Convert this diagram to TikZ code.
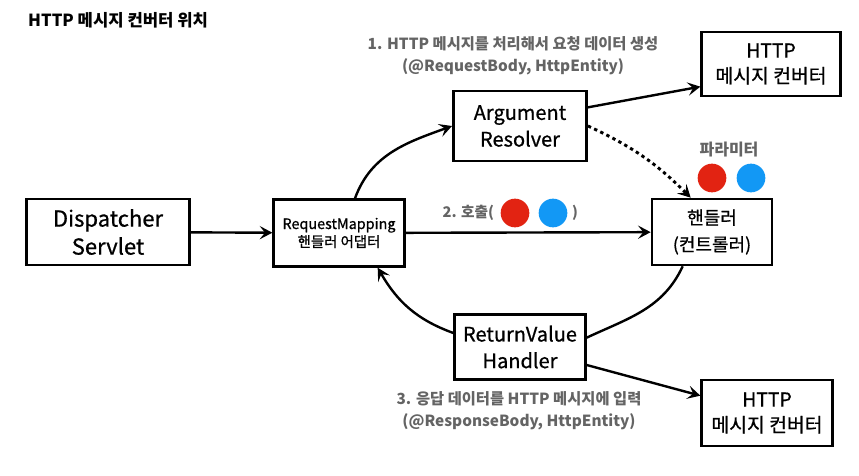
\documentclass[tikz,border=0pt]{standalone}
\usepackage{fontspec}
\setmainfont{Noto Sans CJK KR}
\newfontfamily\boxfont{Noto Sans CJK KR}[FakeBold=0.8]
\usetikzlibrary{arrows.meta}
\definecolor{lblgray}{RGB}{100,100,100}
\definecolor{pred}{RGB}{226,35,18}
\definecolor{pblue}{RGB}{18,152,245}

\begin{document}
\begin{tikzpicture}[x=0.75pt, y=0.75pt, line width=1.8pt,
    box/.style = {draw, line width=2pt, align=center, inner sep=0pt, font=\boxfont\fontsize{15}{20}\selectfont},
    lbl/.style = {text=lblgray, font=\bfseries\fontsize{11.5}{16.5}\selectfont, align=center},
    arr/.style = {-{Stealth[length=9.5pt,width=10pt,inset=4pt]}},
    ball/.style = {circle, inner sep=0pt, minimum size=21.5pt}]
    \useasboundingbox (0,0) rectangle (859,475);

    \node[anchor=west, inner sep=0pt, font=\bfseries\fontsize{12.5}{14}\selectfont] (title) at (27,455) {HTTP 메시지 컨버터 위치};

    \node[box, minimum width=122pt, minimum height=49.5pt, font=\boxfont\fontsize{16.5}{21}\selectfont] (ds) at (108,243) {Dispatcher\\Servlet};
    \node[box, minimum width=98pt, minimum height=50pt, font=\boxfont\fontsize{10.8}{13.5}\selectfont] (rm) at (339,242) {RequestMapping\\핸들러 어댑터};
    \node[box, minimum width=100pt, minimum height=52.5pt] (ar) at (520,349) {Argument\\Resolver};
    \node[box, minimum width=104pt, minimum height=48pt, font=\boxfont\fontsize{14.5}{19}\selectfont] (http1) at (771,411) {HTTP\\메시지 컨버터};
    \node[box, minimum width=90pt, minimum height=49.5pt, font=\boxfont\fontsize{13.5}{20}\selectfont] (hd) at (712,243) {핸들러\\(컨트롤러)};
    \node[box, minimum width=98pt, minimum height=49pt] (rv) at (520,128) {ReturnValue\\Handler};
    \node[box, minimum width=98pt, minimum height=49.5pt, font=\boxfont\fontsize{14.5}{19}\selectfont] (http2) at (767,62) {HTTP\\메시지 컨버터};

    \node[lbl] (step1) at (513,419) {1. HTTP 메시지를 처리해서 요청 데이터 생성\\(@RequestBody, HttpEntity)};
    \node[lbl] (step3) at (519,64) {3. 응답 데이터를 HTTP 메시지에 입력\\(@ResponseBody, HttpEntity)};

    \node[text=lblgray, font=\bfseries\fontsize{12}{14}\selectfont] (param) at (729,325) {파라미터};
    \node[ball, fill=pred] (p1) at (712,297) {};
    \node[ball, fill=pblue] (p2) at (751,297) {};

    \node[lbl, anchor=west, font=\bfseries\fontsize{11}{14}\selectfont] (call) at (437,262) {2. 호출(};
    \node[ball, fill=pred] (c1) at (515,262) {};
    \node[ball, fill=pblue] (c2) at (553,262) {};
    \node[lbl, font=\bfseries\fontsize{11}{14}\selectfont] (close) at (575,262) {)};

    \draw[arr] (ds) -- (rm);
    \draw[arr] (rm) -- (hd);
    \draw[arr] ([xshift=12pt]rm.north) to[out=70, in=200] (ar.west);
    \draw[arr] ([yshift=14pt]ar.east) -- ([yshift=-17pt]http1.west);
    \draw[arr, line width=2.2pt, dash pattern=on 2.5pt off 2.6pt] (ar.east) to[bend left=10] ([xshift=-16pt]hd.north);
    \draw ([xshift=-22pt]hd.south) to[out=245, in=25] ([yshift=7pt]rv.east);
    \draw[arr] ([yshift=10.5pt]rv.west) to[out=160, in=-60] ([xshift=29pt]rm.south);
    \draw[arr] ([yshift=-13.5pt]rv.east) -- ([yshift=13pt]http2.west);

\end{tikzpicture}
\end{document}
